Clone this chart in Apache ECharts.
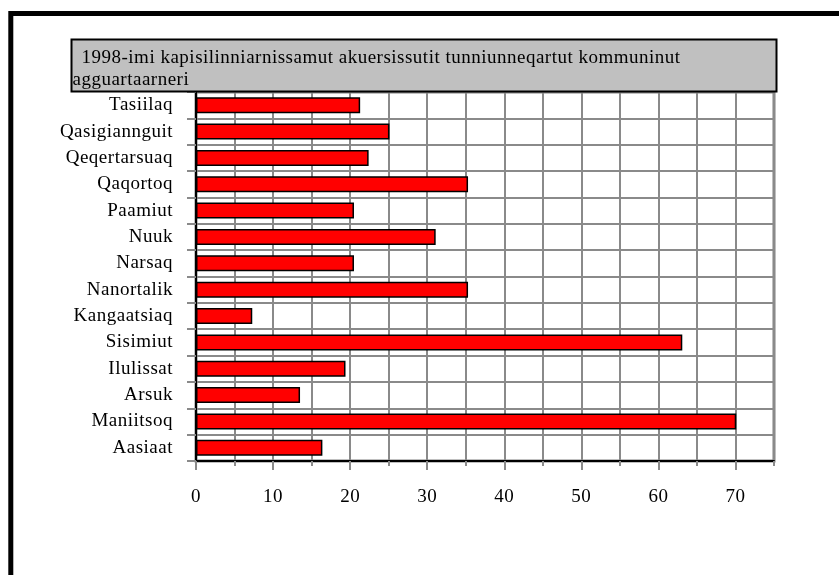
<!DOCTYPE html>
<html><head><meta charset="utf-8">
<script src="https://cdn.jsdelivr.net/npm/echarts@6/dist/echarts.min.js"></script>
<style>html,body{margin:0;padding:0;background:#fff}#c{width:839px;height:575px}</style>
</head><body><div id="c"></div>
<script>
const categories = ['Aasiaat','Maniitsoq','Arsuk','Ilulissat','Sisimiut','Kangaatsiaq','Nanortalik','Narsaq','Nuuk','Paamiut','Qaqortoq','Qeqertarsuaq','Qasigiannguit','Tasiilaq'];
const values = [16.4,70.1,13.5,19.4,63.1,7.3,35.3,20.5,31.1,20.5,35.3,22.4,25.1,21.3];
const xTickLabels = [0,10,20,30,40,50,60,70];
const titleLines = ['1998-imi kapisilinniarnissamut akuersissutit tunniunneqartut kommuninut', 'agguartaarneri'];

const LS = '0.5px';
const origFill = CanvasRenderingContext2D.prototype.fillText;
CanvasRenderingContext2D.prototype.fillText = function () {
  try { this.letterSpacing = LS; } catch (e) {}
  return origFill.apply(this, arguments);
};

const FONT = "'Liberation Serif', 'Times New Roman', serif";
const FS = 19;
const GRID = '#8a8a8a';

const option = {
  animation: false,
  backgroundColor: '#fff',
  grid: { left: 196, right: 65, top: 92, bottom: 114, show: true, borderColor: '#808080', borderWidth: 3, backgroundColor: 'transparent' },
  xAxis: [{
    type: 'value', min: 0, max: 75, interval: 5, position: 'bottom',
    axisLine: { show: true, lineStyle: { color: '#000', width: 2 } },
    axisTick: { show: true, length: 5, lineStyle: { color: GRID, width: 2 } },
    axisLabel: { show: false },
    splitLine: { show: true, lineStyle: { color: GRID, width: 2 } }
  }, {
    type: 'value', min: 0, max: 75, interval: 10, position: 'bottom',
    axisLine: { show: false },
    axisTick: { show: true, length: 9, lineStyle: { color: GRID, width: 2 }, customValues: xTickLabels },
    axisLabel: {
      show: true, margin: 27, color: '#000', fontFamily: FONT, fontSize: FS,
      customValues: xTickLabels,
      formatter: function (v) { return xTickLabels.indexOf(v) >= 0 ? String(v) : ''; }
    },
    splitLine: { show: false }
  }],
  yAxis: {
    type: 'category', data: categories,
    axisLine: { show: true, lineStyle: { color: '#000', width: 2 } },
    axisTick: { show: true, length: 9, lineStyle: { color: GRID, width: 2 } },
    axisLabel: { color: '#000', fontFamily: FONT, fontSize: FS, margin: 23 },
    splitLine: { show: true, lineStyle: { color: GRID, width: 2 } }
  },
  series: [{
    type: 'bar', data: values, xAxisIndex: 0, barWidth: 16,
    itemStyle: { color: '#ff0000', borderColor: '#000', borderWidth: 1.5 },
    z: 5
  }],
  graphic: [
    { type: 'rect', z: 100, silent: true, shape: { x: 71.5, y: 39.5, width: 705, height: 52 },
      style: { fill: '#c0c0c0', stroke: '#000', lineWidth: 2 } },
    { type: 'text', z: 101, silent: true, x: 81.5, y: 58,
      style: { text: titleLines[0], fill: '#000', font: FS + "px " + FONT, verticalAlign: 'middle', align: 'left' } },
    { type: 'text', z: 101, silent: true, x: 72.5, y: 80,
      style: { text: titleLines[1], fill: '#000', font: FS + "px " + FONT, verticalAlign: 'middle', align: 'left' } },
    { type: 'rect', z: 100, silent: true, shape: { x: 10.8, y: 13.5, width: 1000, height: 1000 },
      style: { fill: null, stroke: '#000', lineWidth: 5 } }
  ]
};
const chart = echarts.init(document.getElementById('c'), null, { renderer: 'canvas' });
chart.setOption(option);
</script>
</body></html>
